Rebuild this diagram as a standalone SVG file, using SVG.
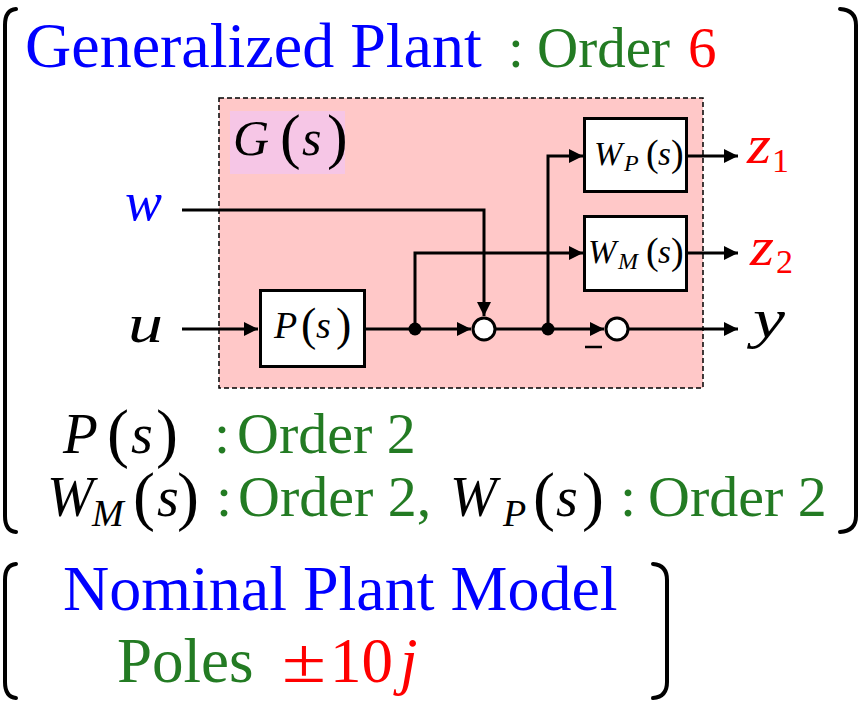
<svg xmlns="http://www.w3.org/2000/svg" width="866" height="707" viewBox="0 0 866 707" font-family="'Liberation Serif', 'Times New Roman', 'DejaVu Serif', serif">
<defs>
<marker id="arr" markerWidth="14" markerHeight="14" refX="14" refY="7" orient="auto" markerUnits="userSpaceOnUse"><path d="M0,0 L14,7 L0,14 z" fill="#000"/></marker>
</defs>
<style>
text{font-family:'Liberation Serif','Times New Roman','DejaVu Serif',serif}
.it{font-style:italic}
.blue{fill:#0000ff}.green{fill:#237b23}.red{fill:#ff0000}.blk{fill:#000}
.conn{fill:none;stroke:#000;stroke-width:3}
.box{fill:#fff;stroke:#000;stroke-width:3}
.sum{fill:#fff;stroke:#000;stroke-width:3}
.brk{fill:none;stroke:#000;stroke-width:4;stroke-linecap:round}
</style>
<rect width="866" height="707" fill="#fff"/>

<g id="brackets">
<path class="brk" d="M16,9 Q5,10 5,25 L5,516 Q5,531 16,532"/>
<path class="brk" d="M840,9 Q856,10 856,25 L856,516 Q856,531 840,532"/>
<path class="brk" d="M16,564 Q5,565 5,580 L5,682 Q5,697 16,698"/>
<path class="brk" d="M653,564 Q667,565 667,580 L667,682 Q667,697 653,698"/>
</g>

<g id="title">
<text class="rm blue" x="25" y="67" font-size="64">Generalized Plant</text>
<text class="rm green" x="508" y="67" font-size="57">:</text>
<text class="rm green" x="537" y="67" font-size="57">Order</text>
<text class="rm red" x="688" y="67" font-size="57">6</text>
</g>

<g id="G">
<rect x="219" y="98" width="484" height="290" fill="#ffc8c8" stroke="#000" stroke-width="1.5" stroke-dasharray="5 3"/>
<rect x="230" y="111" width="115" height="63" fill="#f6c6e6"/>
<text class="it blk" x="233" y="155" font-size="50">G</text>
<text class="rm blk" x="280" y="157" font-size="62">(</text>
<text class="it blk" x="302" y="155" font-size="50">s</text>
<text class="rm blk" x="327" y="157" font-size="62">)</text>
</g>

<g id="connectors">
<path class="conn" d="M182,329 L258,329" marker-end="url(#arr)"/>
<path class="conn" d="M366,329 L471,329" marker-end="url(#arr)"/>
<path class="conn" d="M182,210 L484,210 L484,316" marker-end="url(#arr)"/>
<path class="conn" d="M415,329 L415,253 L583,253" marker-end="url(#arr)"/>
<path class="conn" d="M496,329 L604,329" marker-end="url(#arr)"/>
<path class="conn" d="M548,329 L548,156 L583,156" marker-end="url(#arr)"/>
<path class="conn" d="M629,329 L738,329" marker-end="url(#arr)"/>
<path class="conn" d="M688,156 L738,156" marker-end="url(#arr)"/>
<path class="conn" d="M688,253 L738,253" marker-end="url(#arr)"/>
<circle cx="415" cy="329" r="6.5" fill="#000"/>
<circle cx="548" cy="329" r="6.5" fill="#000"/>
<line x1="585" y1="347" x2="602" y2="347" stroke="#000" stroke-width="2.5"/>
</g>

<g id="P">
<rect class="box" x="260.5" y="290.5" width="104" height="76"/>
<text class="it blk" x="274" y="338" font-size="38">P</text>
<text class="rm blk" x="301" y="340" font-size="46">(</text>
<text class="it blk" x="316" y="338" font-size="38">s</text>
<text class="rm blk" x="336" y="340" font-size="46">)</text>
</g>

<g id="WP">
<rect class="box" x="584.5" y="118.5" width="102" height="73"/>
<text class="it blk" x="594" y="165" font-size="34">W</text>
<text class="it blk" x="624" y="171" font-size="24">P</text>
<text class="rm blk" x="646" y="166" font-size="38">(</text>
<text class="it blk" x="658" y="165" font-size="33">s</text>
<text class="rm blk" x="671" y="166" font-size="38">)</text>
</g>

<g id="WM">
<rect class="box" x="584.5" y="216.5" width="102" height="74"/>
<text class="it blk" x="588" y="263" font-size="34">W</text>
<text class="it blk" x="618" y="269" font-size="24">M</text>
<text class="rm blk" x="646" y="264" font-size="38">(</text>
<text class="it blk" x="658" y="263" font-size="33">s</text>
<text class="rm blk" x="671" y="264" font-size="38">)</text>
</g>

<g id="sum1"><circle class="sum" cx="484" cy="329" r="11"/></g>
<g id="sum2"><circle class="sum" cx="617" cy="329" r="11"/></g>

<g id="w"><text class="it blue" x="125" y="220" font-size="55" textLength="37" lengthAdjust="spacingAndGlyphs">w</text></g>
<g id="u"><text class="it blk" x="128" y="342" font-size="55" textLength="35" lengthAdjust="spacingAndGlyphs">u</text></g>
<g id="y"><text class="it blk" x="753" y="337" font-size="55" textLength="32" lengthAdjust="spacingAndGlyphs">y</text></g>
<g id="z1"><text class="it red" x="747" y="163" font-size="55" textLength="24" lengthAdjust="spacingAndGlyphs">z</text><text class="rm red" x="772" y="172" font-size="34">1</text></g>
<g id="z2"><text class="it red" x="750" y="265" font-size="55" textLength="24" lengthAdjust="spacingAndGlyphs">z</text><text class="rm red" x="776" y="273" font-size="34">2</text></g>

<g id="orders">
<text class="it blk" x="63" y="453" font-size="57">P</text>
<text class="rm blk" x="107" y="455" font-size="66">(</text>
<text class="it blk" x="131" y="453" font-size="56">s</text>
<text class="rm blk" x="156" y="455" font-size="66">)</text>
<text class="rm green" x="214" y="453" font-size="58">:</text>
<text class="rm green" x="237" y="453" font-size="58">Order 2</text>

<text class="it blk" x="47" y="516" font-size="56">W</text>
<text class="it blk" x="92" y="526" font-size="38">M</text>
<text class="rm blk" x="133" y="518" font-size="66">(</text>
<text class="it blk" x="157" y="516" font-size="56">s</text>
<text class="rm blk" x="177" y="518" font-size="66">)</text>
<text class="rm green" x="216" y="516" font-size="58">:</text>
<text class="rm green" x="238" y="516" font-size="58">Order 2,</text>

<text class="it blk" x="450" y="516" font-size="56">W</text>
<text class="it blk" x="503" y="526" font-size="38">P</text>
<text class="rm blk" x="533" y="518" font-size="66">(</text>
<text class="it blk" x="556" y="516" font-size="56">s</text>
<text class="rm blk" x="582" y="518" font-size="66">)</text>
<text class="rm green" x="620" y="516" font-size="58">:</text>
<text class="rm green" x="648" y="516" font-size="58">Order 2</text>
</g>

<g id="nominal">
<text class="rm blue" x="63" y="610" font-size="64">Nominal Plant Model</text>
<text class="rm green" x="117" y="682" font-size="63">Poles</text>
<text class="rm red" x="282" y="682" font-size="63" textLength="44" lengthAdjust="spacingAndGlyphs">±</text>
<text class="rm red" x="330" y="682" font-size="63">10</text>
<text class="it red" x="400" y="682" font-size="63">j</text>
</g>
</svg>
